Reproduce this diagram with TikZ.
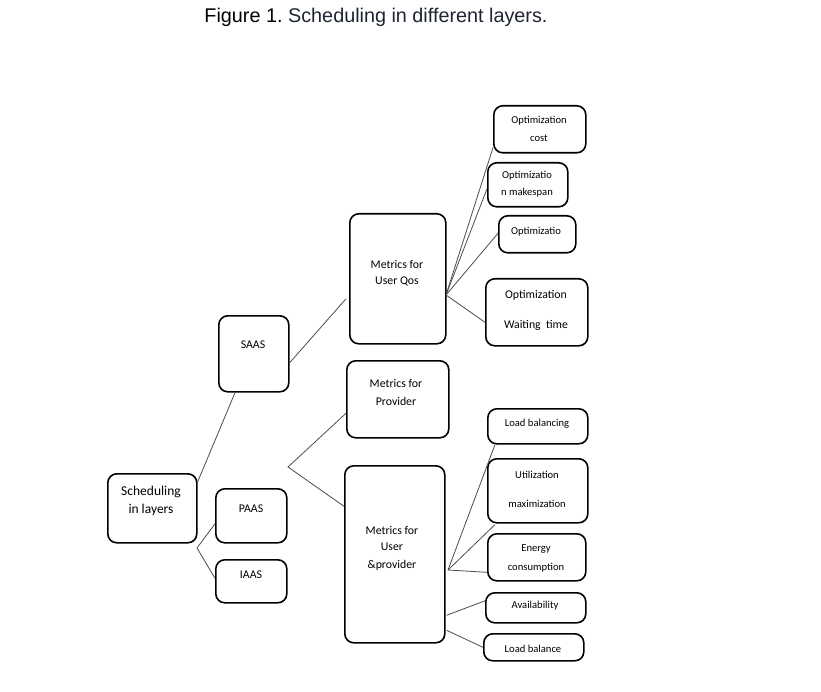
\documentclass[tikz,border=0pt]{standalone}
\usepackage{fontspec}
\setmainfont{Carlito}
\newfontfamily\titlefont{Liberation Sans}
\usetikzlibrary{calc}
\begin{document}
\begin{tikzpicture}[x=1pt,y=-1pt,
  box/.style={draw=black,line width=1.6pt,rounded corners=9pt,inner sep=0pt,anchor=north west},
  lbl/.style={font=\fontsize{11.8}{13}\selectfont,inner sep=0pt,anchor=center},
  slbl/.style={font=\fontsize{10.6}{12}\selectfont,inner sep=0pt,anchor=center},
  conn/.style={draw=black!70,line width=0.8pt}]
\useasboundingbox (0,0) rectangle (821,692);
% title
\node[inner sep=0pt,anchor=center] (title) at (376,17) {\titlefont\fontsize{19.8}{22}\selectfont \textcolor{black}{Figure 1}.\ \textcolor[rgb]{0.12,0.14,0.2}{Scheduling in different layers.}};
% boxes
\node[box,minimum width=89pt,minimum height=69pt] (sched) at (107,473) {};
\node[box,minimum width=70pt,minimum height=76pt] (saas) at (218,315) {};
\node[box,minimum width=71pt,minimum height=54pt] (paas) at (215,488) {};
\node[box,minimum width=71pt,minimum height=43pt] (iaas) at (215,559) {};
\node[box,minimum width=96pt,minimum height=130pt] (qos) at (349,213) {};
\node[box,minimum width=102pt,minimum height=77pt] (prov) at (346,360) {};
\node[box,minimum width=100pt,minimum height=177pt] (userprov) at (344,465) {};
\node[box,minimum width=92pt,minimum height=47pt] (cost) at (493,105) {};
\node[box,minimum width=80pt,minimum height=44pt] (makespan) at (487,162) {};
\node[box,minimum width=77pt,minimum height=37pt] (opt) at (498,215) {};
\node[box,minimum width=102pt,minimum height=67pt] (wait) at (485,278) {};
\node[box,minimum width=100pt,minimum height=35pt] (lb) at (487,408) {};
\node[box,minimum width=100pt,minimum height=64pt] (util) at (487,458) {};
\node[box,minimum width=98pt,minimum height=47pt] (energy) at (487,533) {};
\node[box,minimum width=100pt,minimum height=30pt] (avail) at (485,592) {};
\node[box,minimum width=100pt,minimum height=27pt] (lbal) at (483,633) {};
% texts
\node[lbl,font=\fontsize{13.5}{15}\selectfont] (t1) at (151,492) {Scheduling};
\node[lbl,font=\fontsize{13.5}{15}\selectfont] (t2) at (151,510) {in layers};
\node[lbl] (t3) at (253,345) {SAAS};
\node[lbl] (t4) at (251,509) {PAAS};
\node[lbl] (t5) at (251,575) {IAAS};
\node[lbl] (t6) at (397,264) {Metrics for};
\node[lbl] (t7) at (397,281) {User Qos};
\node[lbl] (t8) at (396,383) {Metrics for};
\node[lbl] (t9) at (396,401) {Provider};
\node[lbl] (t10) at (392,530) {Metrics for};
\node[lbl] (t11) at (392,547) {User};
\node[lbl] (t12) at (392,565) {\&provider};
\node[slbl] (t13) at (539,121) {Optimization};
\node[slbl] (t14) at (539,138) {cost};
\node[slbl] (t15) at (527,176) {Optimizatio};
\node[slbl] (t16) at (527,193) {n makespan};
\node[slbl] (t17) at (536,232) {Optimizatio};
\node[lbl] (t18) at (536,295) {Optimization};
\node[lbl] (t19) at (536,325) {Waiting\ \ time};
\node[slbl] (t20) at (537,424) {Load balancing};
\node[slbl] (t21) at (537,475) {Utilization};
\node[slbl] (t22) at (537,504) {maximization};
\node[slbl] (t23) at (536,549) {Energy};
\node[slbl] (t24) at (536,568) {consumption};
\node[slbl] (t25) at (535,606) {Availability};
\node[slbl] (t26) at (533,649) {Load balance};
% junction points
\coordinate (v1) at (197,548);
\coordinate (v2) at (288,467);
\coordinate (v3) at (446,295);
\coordinate (v4) at (448,570);
% connectors
\draw[conn] ($(sched.north east)+(0,9)$) -- ($(saas.south west)+(17,0)$);
\draw[conn] ($(saas.east)+(0,9)$) -- ($(qos.west)+(-3,20)$);
\draw[conn] ($(paas.west)+(0,8)$) -- (v1) -- ($(iaas.west)+(0,-3)$);
\draw[conn] ($(prov.west)+(0,14)$) -- (v2) -- ($(userprov.west)+(0,-48)$);
\draw[conn] (v3) -- ($(cost.south west)+(0,-6)$);
\draw[conn] (v3) -- ($(makespan.west)+(0,4)$);
\draw[conn] (v3) -- ($(opt.west)+(0,-1)$);
\draw[conn] (v3) -- ($(wait.west)+(0,10)$);
\draw[conn] (v4) -- ($(lb.south west)+(8,0)$);
\draw[conn] (v4) -- ($(util.south west)+(8,1)$);
\draw[conn] (v4) -- ($(energy.west)+(0,15)$);
\draw[conn] ($(userprov.east)+(1,61)$) -- ($(avail.west)+(0,-7)$);
\draw[conn] ($(userprov.east)+(1,76)$) -- (lbal.west);
\end{tikzpicture}
\end{document}
